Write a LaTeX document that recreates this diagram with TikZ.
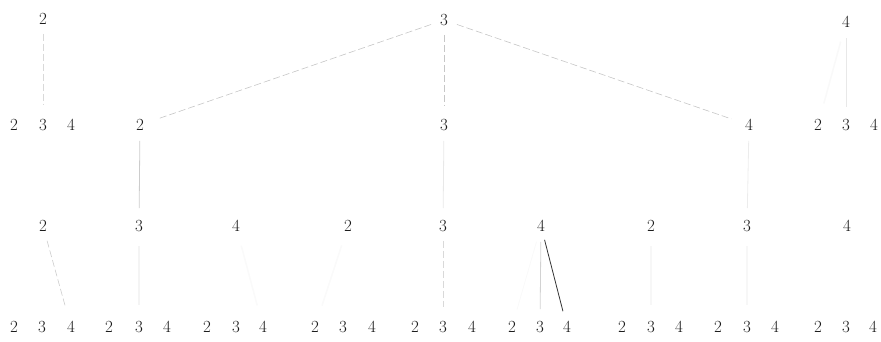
\documentclass[tikz,border=0pt]{standalone}
\usetikzlibrary{positioning}
\begin{document}
\begin{tikzpicture}[x=1pt,y=-1pt,
  lab/.style={inner sep=6pt,text=black!90,font=\fontsize{17}{19}\selectfont},
  faintdash/.style={draw=gray!45,line width=0.6pt,dash pattern=on 7pt off 3pt,shorten >=8pt,shorten <=3pt},
  faint/.style={draw=gray!25,line width=0.8pt,shorten >=6pt,shorten <=4pt},
  ghost/.style={draw=gray!7,line width=1.6pt,shorten >=10pt,shorten <=8pt},
  darkedge/.style={draw=black!80,line width=0.8pt,shorten >=4pt,shorten <=2pt}]
\useasboundingbox (0,0) rectangle (881,341);
% top-left small tree
\node[lab] (t2) at (43,19) {2};
\node[lab] (t22) at (14,125) {2};
\node[lab] (t23) at (43,125) {3};
\node[lab] (t24) at (71,125) {4};
% top-right small tree
\node[lab] (u4) at (846,22) {4};
\node[lab] (u42) at (818,125) {2};
\node[lab] (u43) at (846,125) {3};
\node[lab] (u44) at (874,125) {4};
% main tree
\node[lab] (r) at (444,20) {3};
\node[lab] (a2) at (140,125) {2};
\node[lab] (a3) at (444,125) {3};
\node[lab] (a4) at (749,125) {4};
% level 2
\node[lab] (b22) at (43,226) {2};
\node[lab] (b23) at (139,226) {3};
\node[lab] (b24) at (236,226) {4};
\node[lab] (b32) at (348,226) {2};
\node[lab] (b33) at (443,226) {3};
\node[lab] (b34) at (541,226) {4};
\node[lab] (b42) at (651,226) {2};
\node[lab] (b43) at (747,226) {3};
\node[lab] (b44) at (847,226) {4};
% leaves
\node[lab] (c222) at (14,327) {2};
\node[lab] (c223) at (42,327) {3};
\node[lab] (c224) at (71,327) {4};
\node[lab] (c232) at (109,327) {2};
\node[lab] (c233) at (139,327) {3};
\node[lab] (c234) at (167,327) {4};
\node[lab] (c242) at (207,327) {2};
\node[lab] (c243) at (236,327) {3};
\node[lab] (c244) at (263,327) {4};
\node[lab] (c322) at (315,327) {2};
\node[lab] (c323) at (343,327) {3};
\node[lab] (c324) at (372,327) {4};
\node[lab] (c332) at (415,327) {2};
\node[lab] (c333) at (443,327) {3};
\node[lab] (c334) at (472,327) {4};
\node[lab] (c342) at (512,327) {2};
\node[lab] (c343) at (540,327) {3};
\node[lab] (c344) at (567,327) {4};
\node[lab] (c422) at (622,327) {2};
\node[lab] (c423) at (651,327) {3};
\node[lab] (c424) at (679,327) {4};
\node[lab] (c432) at (718,327) {2};
\node[lab] (c433) at (747,327) {3};
\node[lab] (c434) at (775,327) {4};
\node[lab] (c442) at (818,327) {2};
\node[lab] (c443) at (846,327) {3};
\node[lab] (c444) at (873,327) {4};
% edges
\draw[faintdash] (r) -- (a2);
\draw[faintdash] (r) -- (a3);
\draw[faintdash] (r) -- (a4);
\draw[faintdash,draw=gray!30] (t2) -- (t23);
\draw[faint,draw=gray!18] (u4) -- (u43);
\draw[ghost,draw=gray!5] (u4) -- (u42);
\draw[faint,draw=gray!40] (a2) -- (b23);
\draw[faint,draw=gray!18] (a3) -- (b33);
\draw[faint,draw=gray!15] (a4) -- (b43);
\draw[faintdash,draw=gray!40] (b22) -- (c224);
\draw[ghost,draw=gray!9] (b23) -- (c233);
\draw[ghost,draw=gray!4] (b24) -- (c244);
\draw[ghost,draw=gray!4] (b32) -- (c322);
\draw[faintdash,draw=gray!30] (b33) -- (c333);
\draw[faint,draw=gray!5] (b34) -- (c342);
\draw[faint,draw=gray!35] (b34) -- (c343);
\draw[darkedge] (b34) -- (c344);
\draw[ghost,draw=gray!6] (b42) -- (c423);
\draw[ghost,draw=gray!6] (b43) -- (c433);
\end{tikzpicture}
\end{document}
